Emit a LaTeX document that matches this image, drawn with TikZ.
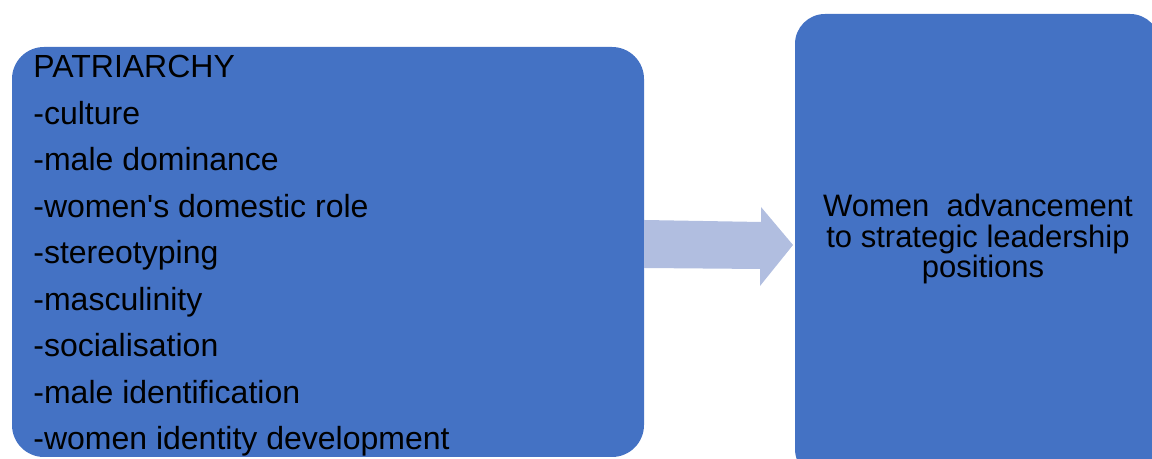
\documentclass[tikz,border=0pt]{standalone}
\usepackage{fontspec}
\setmainfont{Liberation Sans}
\usepackage{tikz}
\usetikzlibrary{positioning}
\definecolor{box_blue}{HTML}{4472C4}
\definecolor{arrow_blue}{HTML}{B1BEE0}

\tikzset{
  itemtext/.style={anchor=base west,inner sep=0pt,font=\fontsize{16}{18}\selectfont},
  goaltext/.style={anchor=base,inner sep=0pt,font=\fontsize{15.5}{18}\selectfont}
}

\begin{document}
\begin{tikzpicture}[x=0.5pt,y=0.5pt]
    \useasboundingbox (0,0) rectangle (1152,459);

    % the two boxes
    \fill[box_blue,rounded corners=16pt] (12,2) rectangle (644,412);
    \fill[box_blue,rounded corners=15pt] (795,-20) rectangle (1160,445);

    % block arrow
    \fill[arrow_blue] (644,239) -- (761,237) -- (761,252) -- (793,214)
         -- (760,173) -- (760,190) -- (644,191) -- cycle;

    % left list
    \foreach \t [count=\i from 0] in {PATRIARCHY,-culture,-male dominance,
        -women\textquotesingle s domestic role,-stereotyping,-masculinity,
        -socialisation,-male identification,-women identity development}
        \node[itemtext] (item\i) at (33,{381-46.5*\i}) {\t};

    % right text
    \node[goaltext] (goal1) at (978,242) {Women\ \ advancement};
    \node[goaltext] (goal2) at (978,211) {to strategic leadership};
    \node[goaltext] (goal3) at (983,181) {positions};
\end{tikzpicture}
\end{document}
